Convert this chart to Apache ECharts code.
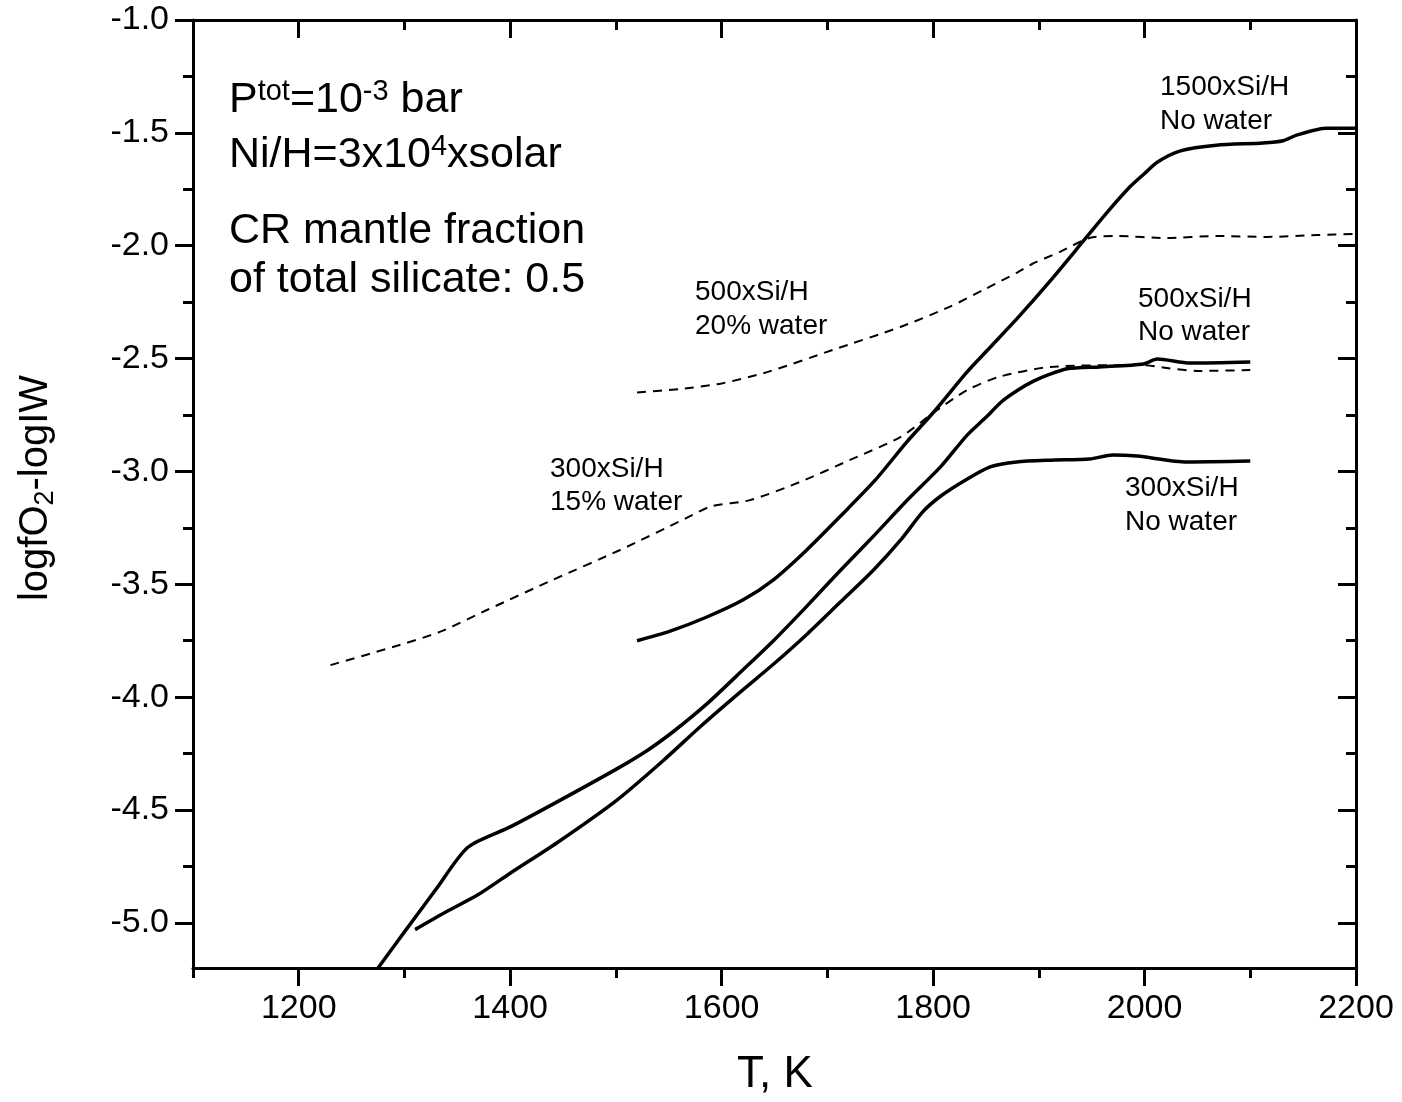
<!DOCTYPE html>
<html>
<head>
<meta charset="utf-8">
<script src="https://cdn.jsdelivr.net/npm/echarts@6/dist/echarts.min.js"></script>
<style>
  html, body { margin: 0; padding: 0; background: #fff; }
  #chart { width: 1402px; height: 1102px; }
</style>
</head>
<body>
<div id="chart"></div>
<script>
// ---- Data ----
const xMajorTicks = [1200, 1400, 1600, 1800, 2000, 2200];
const xMinorTicks = [1100, 1300, 1500, 1700, 1900, 2100];
const yMajorTicks = [-5.0, -4.5, -4.0, -3.5, -3.0, -2.5, -2.0, -1.5, -1.0];
const yMinorTicks = [-5.25, -4.75, -4.25, -3.75, -3.25, -2.75, -2.25, -1.75, -1.25];

// 1500xSi/H, no water (solid)
const si1500NoWater = [[1520,-3.75],[1550,-3.71],[1586,-3.645],[1620,-3.57],[1649,-3.48],[1680,-3.35],[1712,-3.2],[1745,-3.04],[1775,-2.87],[1800,-2.74],[1832,-2.56],[1854,-2.45],[1880,-2.32],[1910,-2.16],[1942,-1.98],[1965,-1.85],[1986,-1.74],[2000,-1.68],[2012,-1.63],[2034,-1.58],[2068,-1.555],[2112,-1.545],[2131,-1.535],[2144,-1.51],[2172,-1.48],[2200,-1.48]];
// 500xSi/H, no water (solid)
const si500NoWater = [[1275,-5.2],[1300,-5.04],[1330,-4.85],[1360,-4.665],[1400,-4.575],[1444,-4.465],[1500,-4.32],[1530,-4.235],[1555,-4.15],[1586,-4.03],[1620,-3.88],[1649,-3.75],[1680,-3.6],[1712,-3.44],[1745,-3.28],[1775,-3.13],[1807,-2.98],[1832,-2.84],[1850,-2.76],[1865,-2.69],[1880,-2.64],[1895,-2.6],[1910,-2.57],[1927,-2.545],[1958,-2.537],[1999,-2.524],[2012,-2.502],[2043,-2.52],[2100,-2.515]];
// 300xSi/H, no water (solid)
const si300NoWater = [[1310,-5.03],[1340,-4.95],[1369,-4.877],[1400,-4.78],[1444,-4.646],[1501,-4.456],[1545,-4.28],[1580,-4.13],[1617,-3.98],[1650,-3.85],[1681,-3.72],[1712,-3.58],[1743,-3.44],[1770,-3.3],[1790,-3.18],[1807,-3.11],[1830,-3.04],[1854,-2.98],[1879,-2.958],[1911,-2.95],[1948,-2.945],[1970,-2.927],[1993,-2.932],[2040,-2.958],[2100,-2.954]];
// 300xSi/H, 15% water (dashed)
const si300Water15 = [[1230,-3.858],[1289,-3.778],[1334,-3.71],[1378,-3.614],[1440,-3.481],[1504,-3.348],[1567,-3.206],[1590,-3.155],[1627,-3.127],[1674,-3.047],[1721,-2.95],[1769,-2.848],[1800,-2.741],[1832,-2.64],[1863,-2.58],[1911,-2.537],[1999,-2.529],[2021,-2.542],[2050,-2.555],[2100,-2.551]];
// 500xSi/H, 20% water (dashed)
const si500Water20 = [[1520,-2.65],[1560,-2.635],[1600,-2.61],[1643,-2.56],[1705,-2.462],[1769,-2.36],[1816,-2.27],[1850,-2.19],[1879,-2.12],[1894,-2.08],[1920,-2.027],[1948,-1.966],[1974,-1.957],[2021,-1.966],[2068,-1.957],[2116,-1.961],[2163,-1.953],[2200,-1.948]];

const FONT = 'Liberation Sans, Arial, Helvetica, sans-serif';
const X_MIN = 1100, X_MAX = 2200, Y_MIN = -5.2, Y_MAX = -1.0;

function xAxisDef(pos, ticks, len, inside, showLine, showLabels) {
  return {
    type: 'value', position: pos, min: X_MIN, max: X_MAX,
    axisLine: { show: showLine, onZero: false, lineStyle: { color: '#000', width: 3 } },
    axisTick: { show: true, inside: inside, length: len, customValues: ticks, lineStyle: { color: '#000', width: 3 } },
    axisLabel: showLabels ? { show: true, customValues: ticks, color: '#000', fontSize: 34, fontFamily: FONT, margin: 24,
      formatter: v => String(Math.round(v)) } : { show: false },
    splitLine: { show: false }
  };
}
function yAxisDef(pos, ticks, len, inside, showLine, showLabels) {
  return {
    type: 'value', position: pos, min: Y_MIN, max: Y_MAX,
    axisLine: { show: showLine, onZero: false, lineStyle: { color: '#000', width: 3 } },
    axisTick: { show: true, inside: inside, length: len, customValues: ticks, lineStyle: { color: '#000', width: 3 } },
    axisLabel: showLabels ? { show: true, customValues: ticks, color: '#000', fontSize: 34, fontFamily: FONT, margin: 24,
      formatter: v => v.toFixed(1) } : { show: false },
    splitLine: { show: false }
  };
}

function lineSeries(data, dashed) {
  return {
    type: 'line', data: data, xAxisIndex: 0, yAxisIndex: 0,
    showSymbol: false, symbol: 'none', smooth: 0.25, clip: true, silent: true,
    lineStyle: dashed ? { color: '#000', width: 2, type: [9, 7] } : { color: '#000', width: 3.5 }
  };
}

const smallText = (x, y, txt) => ({
  type: 'text', x: x, y: y, silent: true,
  style: { text: txt, fill: '#000', font: '28px ' + FONT, textAlign: 'left', textVerticalAlign: 'middle' }
});

const chart = echarts.init(document.getElementById('chart'), null, { renderer: 'canvas' });
chart.setOption({
  animation: false,
  backgroundColor: '#fff',
  grid: { left: 193, right: 46, top: 20, bottom: 134, containLabel: false },
  xAxis: [
    xAxisDef('bottom', xMajorTicks, 18, false, true, true),
    xAxisDef('bottom', xMinorTicks, 10, false, false, false),
    xAxisDef('top', xMajorTicks, 18, true, true, false),
    xAxisDef('top', xMinorTicks, 10, true, false, false)
  ],
  yAxis: [
    yAxisDef('left', yMajorTicks, 18, false, true, true),
    yAxisDef('left', yMinorTicks, 10, false, false, false),
    yAxisDef('right', yMajorTicks, 18, true, true, false),
    yAxisDef('right', yMinorTicks, 10, true, false, false)
  ],
  series: [
    lineSeries(si1500NoWater, false),
    lineSeries(si500NoWater, false),
    lineSeries(si300NoWater, false),
    lineSeries(si300Water15, true),
    lineSeries(si500Water20, true)
  ],
  graphic: [
    // axis titles
    { type: 'text', x: 775, y: 1075, silent: true,
      style: { text: 'T, K', fill: '#000', font: '44px ' + FONT, textAlign: 'center', textVerticalAlign: 'middle' } },
    { type: 'text', x: 36, y: 488, rotation: Math.PI / 2, silent: true,
      style: { text: '{n|logfO}{s|2}{n|-logIW}', fill: '#000', textAlign: 'center', textVerticalAlign: 'middle',
        rich: { n: { fontSize: 40, fontFamily: FONT, fill: '#000', lineHeight: 46, verticalAlign: 'middle' },
                s: { fontSize: 27, fontFamily: FONT, fill: '#000', lineHeight: 46, verticalAlign: 'bottom' } } } },
    // condition annotations
    { type: 'text', x: 229, y: 100, silent: true,
      style: { text: '{n|P}{s|tot}{n|=10}{s|-3}{n| bar}', fill: '#000', textAlign: 'left', textVerticalAlign: 'middle',
        rich: { n: { fontSize: 43, fontFamily: FONT, fill: '#000', lineHeight: 46, verticalAlign: 'middle' },
                s: { fontSize: 29, fontFamily: FONT, fill: '#000', lineHeight: 46, verticalAlign: 'top' } } } },
    { type: 'text', x: 229, y: 155, silent: true,
      style: { text: '{n|Ni/H=3x10}{s|4}{n|xsolar}', fill: '#000', textAlign: 'left', textVerticalAlign: 'middle',
        rich: { n: { fontSize: 43, fontFamily: FONT, fill: '#000', lineHeight: 46, verticalAlign: 'middle' },
                s: { fontSize: 29, fontFamily: FONT, fill: '#000', lineHeight: 46, verticalAlign: 'top' } } } },
    { type: 'text', x: 229, y: 231, silent: true,
      style: { text: 'CR mantle fraction', fill: '#000', font: '43px ' + FONT, textAlign: 'left', textVerticalAlign: 'middle' } },
    { type: 'text', x: 229, y: 280, silent: true,
      style: { text: 'of total silicate: 0.5', fill: '#000', font: '43px ' + FONT, textAlign: 'left', textVerticalAlign: 'middle' } },
    // curve labels
    smallText(1160, 87, '1500xSi/H'),
    smallText(1160, 121, 'No water'),
    smallText(1138, 299, '500xSi/H'),
    smallText(1138, 332, 'No water'),
    smallText(1125, 488, '300xSi/H'),
    smallText(1125, 522, 'No water'),
    smallText(695, 292, '500xSi/H'),
    smallText(695, 326, '20% water'),
    smallText(550, 469, '300xSi/H'),
    smallText(550, 502, '15% water')
  ]
});
</script>
</body>
</html>
